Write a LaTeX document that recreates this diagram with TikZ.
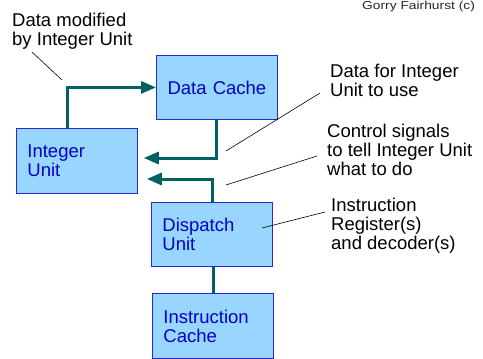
\documentclass[tikz,border=0pt]{standalone}
\usepackage{fontspec}
\setmainfont{Liberation Sans}
\usetikzlibrary{arrows.meta,calc}
\definecolor{boxfill}{RGB}{153,214,255}
\definecolor{boxline}{RGB}{40,40,210}
\definecolor{boxtext}{RGB}{0,0,200}
\definecolor{wire}{RGB}{0,96,100}
\tikzset{
  unit/.style={draw=boxline, line width=0.8pt, fill=boxfill, anchor=north west,
    minimum width=119pt, minimum height=64pt, text width=99pt, inner xsep=11pt,
    align=left, text=boxtext, font=\fontsize{18.5}{19}\selectfont},
  wirearrow/.style={draw=wire, line width=3pt, -{Triangle[length=15pt,width=12pt]}},
  wireplain/.style={draw=wire, line width=3pt},
  note/.style={anchor=north west, align=left, inner sep=0pt, font=\fontsize{18.5}{19}\selectfont},
  pointer/.style={draw=black, line width=0.6pt}
}
\begin{document}
\begin{tikzpicture}[x=1pt, y=-1pt]
  \useasboundingbox (0,0) rectangle (483,359);
  % functional units
  \node[unit, align=center] (dc) at (156,55) {Data Cache};
  \node[unit, minimum height=65pt] (iu) at (16,128) {Integer\\Unit};
  \node[unit] (du) at (151,202) {Dispatch\\Unit};
  \node[unit, minimum width=120pt, minimum height=65pt] (ic) at (152,293) {Instruction\\Cache};
  % bend points of the data paths
  \coordinate (iuout) at (67,128);
  \coordinate (dcbend) at (215,158);
  \coordinate (dubend) at (212,179);
  \coordinate (dutop) at (212,202);
  % data paths
  \draw[wirearrow] (iuout) |- (dc.west);
  \draw[wirearrow] (dc.south) |- ($(iu.east |- dcbend)+(6,0)$);
  \draw[wirearrow] (dutop) |- ($(iu.east |- dubend)+(9,0)$);
  \draw[wireplain] (du.south -| 213,0) -- (ic.north -| 213,0);
  % annotations
  \node[note] (n1) at (12,13) {Data modified\\by Integer Unit};
  \node[note] (n2) at (330,63.5) {Data for Integer\\Unit to use};
  \node[note] (n3) at (327,123.5) {Control signals\\to tell Integer Unit\\what to do};
  \node[note] (n4) at (331,197.5) {Instruction\\Register(s)\\and decoder(s)};
  \coordinate (p1) at (62,80);
  \coordinate (p2) at (226,151);
  \coordinate (p3) at (226,185);
  \coordinate (p4) at (262,228);
  \draw[pointer] (32,52) -- (p1);
  \draw[pointer] (320,93) -- (p2);
  \draw[pointer] (317,156) -- (p3);
  \draw[pointer] (325,212) -- (p4);
  \node[anchor=base west, inner sep=0pt, xscale=1.2, font=\fontsize{11.5}{13}\selectfont, text=black!85] (copy) at (362,9.5) {Gorry Fairhurst (c)};
\end{tikzpicture}
\end{document}
